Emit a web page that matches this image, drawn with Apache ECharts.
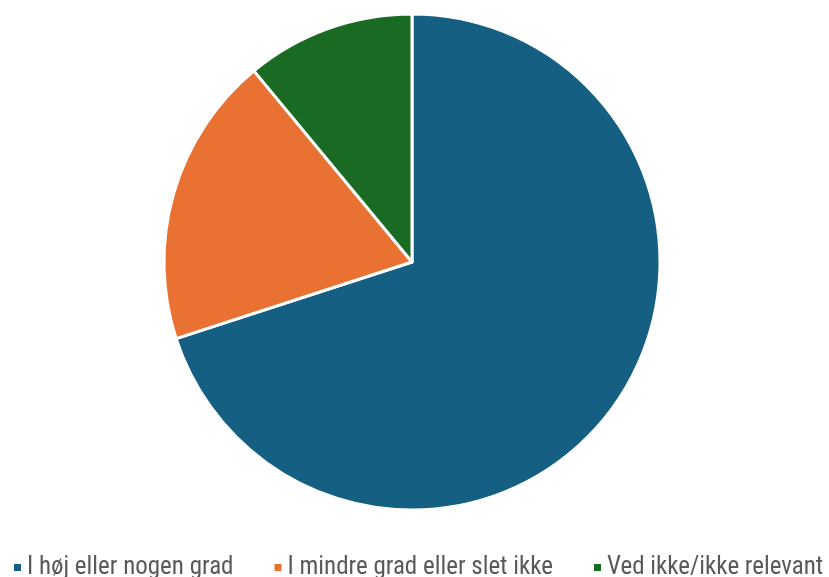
<!DOCTYPE html>
<html>
<head>
<meta charset="utf-8">
<script src="https://cdn.jsdelivr.net/npm/echarts@6/dist/echarts.min.js"></script>
<style>
  html, body { margin: 0; padding: 0; background: #fff; }
  #chart { width: 829px; height: 577px; }
</style>
</head>
<body>
<div id="chart"></div>
<script>
// svar-kategorier og andele (%)
var categories = ['I høj eller nogen grad', 'I mindre grad eller slet ikke', 'Ved ikke/ikke relevant'];
var values = [70, 19, 11];
var colors = ['#156082', '#E97132', '#196B24'];

var chart = echarts.init(document.getElementById('chart'));
chart.setOption({
    animation: false,
    color: colors,
    legend: {
        data: categories,
        top: 555,
        left: 12,
        padding: 0,
        icon: 'rect',
        itemWidth: 9,
        itemHeight: 9,
        itemGap: 39,
        textStyle: {
            fontFamily: '"Liberation Sans Narrow", "Roboto Condensed", "DejaVu Sans Condensed", sans-serif',
            fontSize: 25,
            color: '#595959'
        }
    },
    series: [
        {
            type: 'pie',
            center: [412, 262],
            radius: 248,
            startAngle: 90,
            clockwise: true,
            label: { show: false },
            labelLine: { show: false },
            itemStyle: {
                borderColor: '#fff',
                borderWidth: 3
            },
            data: categories.map(function (name, i) {
                return { name: name, value: values[i] };
            })
        }
    ]
});
</script>
</body>
</html>
